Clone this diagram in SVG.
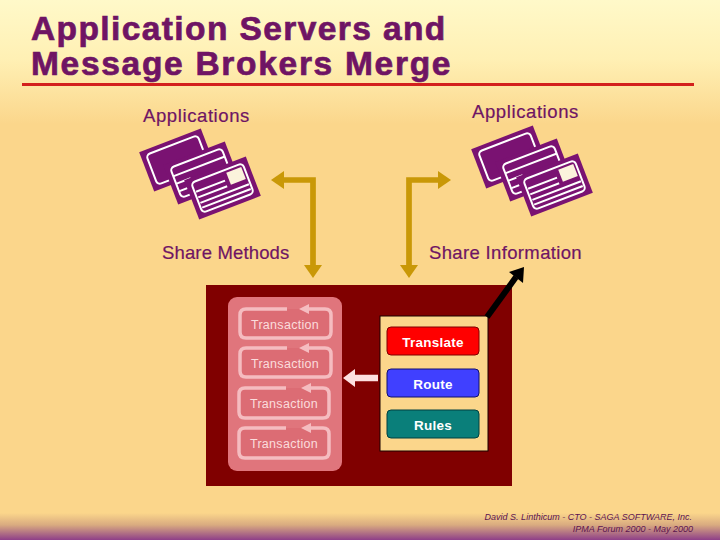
<svg xmlns="http://www.w3.org/2000/svg" xmlns:xlink="http://www.w3.org/1999/xlink" width="720" height="540" viewBox="0 0 720 540">
<style>
text{font-family:"Liberation Sans",Arial,sans-serif}
.title{font-size:33.5px;font-weight:bold;fill:#6f1464;stroke:#6f1464;stroke-width:.7px}
.lab{font-size:18.5px;fill:#6f1464;stroke:#6f1464;stroke-width:.2px}
.tx{font-size:12.5px;fill:#fbdcdc;text-anchor:middle;letter-spacing:.3px}
.btn{font-size:13.5px;font-weight:bold;fill:#fff;text-anchor:middle;letter-spacing:.25px}
.foot{font-size:9px;font-style:italic;fill:#5c1450;text-anchor:end}
.gold{fill:none;stroke:#c99807;stroke-width:5.7}
.loop{fill:#dc6c74;stroke:#f5bcc0;stroke-width:3.5}
.page{fill:#7a1272}
.w{fill:none;stroke:#fff;stroke-width:2}
</style>
<defs>
<linearGradient id="bg" x1="0" y1="0" x2="0" y2="1">
<stop offset="0" stop-color="#fff9c9"/><stop offset=".11" stop-color="#fff0b4"/><stop offset=".23" stop-color="#fbd68b"/><stop offset=".95" stop-color="#fbd68b"/><stop offset=".972" stop-color="#d9ab80"/><stop offset="1" stop-color="#8e3f88"/>
</linearGradient>
<g id="doc"><rect class="page" x="-33" y="-21" width="66" height="42"/><rect class="w" x="-27.500" y="-16" width="55" height="32" rx="4"/></g>
<g id="stack">
<g transform="translate(-22.500,-13) rotate(-21)"><use xlink:href="#doc"/></g>
<g transform="translate(1.500,0) rotate(-21)"><use xlink:href="#doc"/><path class="w" d="M-27,-7H27M-27,1H-12M-27,9H-12"/></g>
<g transform="translate(22.500,15) rotate(-21)"><use xlink:href="#doc"/><path class="w" d="M-26,-6H5M-26,0H5M-26,6H26M-26,11H26"/><rect x="9" y="-13" width="16" height="13" fill="#fbf3dc"/></g>
</g>
</defs>
<rect id="background" width="720" height="540" fill="url(#bg)"/>
<g id="title">
<text class="title" x="31" y="40" style="letter-spacing:1.4px">Application Servers and</text>
<text class="title" x="31" y="75" style="letter-spacing:1.7px">Message Brokers Merge</text>
<rect x="22" y="83" width="672" height="3" fill="#d3201c"/>
</g>
<g id="apps-left"><text class="lab" x="143" y="122" style="letter-spacing:.6px">Applications</text><use xlink:href="#stack" x="200" y="173"/></g>
<g id="apps-right"><text class="lab" x="472" y="118" style="letter-spacing:.6px">Applications</text><use xlink:href="#stack" x="532" y="170"/></g>
<g id="share-methods"><text class="lab" x="162" y="259" style="letter-spacing:.15px">Share Methods</text></g>
<g id="share-information"><text class="lab" x="429" y="259" style="letter-spacing:.35px">Share Information</text></g>
<g id="server-box">
<rect x="206" y="285" width="306" height="201" fill="#800000"/>
</g>
<g id="transactions">
<rect x="228" y="297" width="114" height="174" rx="9" fill="#e0757c"/>
<path class="loop" d="M287,309H246Q240,309 240,315V332Q240,338 246,338H325Q331,338 331,332V315Q331,309 325,309H308"/><path d="M299,309L309,304V314Z" fill="#f5bcc0"/>
<path class="loop" d="M287,348H246Q240,348 240,354V371Q240,377 246,377H325Q331,377 331,371V354Q331,348 325,348H308"/><path d="M299,348L309,343V353Z" fill="#f5bcc0"/>
<path class="loop" d="M286,388H245Q239,388 239,394V412Q239,418 245,418H323Q329,418 329,412V394Q329,388 323,388H310"/><path d="M301,388L311,383V393Z" fill="#f5bcc0"/>
<path class="loop" d="M286,428H245Q239,428 239,434V452Q239,458 245,458H323Q329,458 329,452V434Q329,428 323,428H310"/><path d="M301,428L311,423V433Z" fill="#f5bcc0"/>
<text class="tx" x="285" y="329">Transaction</text>
<text class="tx" x="285" y="368">Transaction</text>
<text class="tx" x="284" y="408">Transaction</text>
<text class="tx" x="284" y="448">Transaction</text>
</g>
<g id="broker">
<rect x="380" y="316" width="108" height="135" fill="#fbd68b" stroke="#1a0000"/>
</g>
<g id="translate"><rect x="387" y="327" width="92" height="28" rx="4" fill="#ff0000" stroke="#800000"/><text class="btn" x="433" y="347">Translate</text></g>
<g id="route"><rect x="387" y="369" width="92" height="28" rx="4" fill="#4040ff" stroke="#101070"/><text class="btn" x="433" y="389">Route</text></g>
<g id="rules"><rect x="387" y="410" width="92" height="28" rx="4" fill="#0a7f7a" stroke="#004040"/><text class="btn" x="433" y="430">Rules</text></g>
<g id="connectors">
<path class="gold" d="M313,268V180H280"/><path d="M271,180L284,171V189Z" fill="#c99807"/><path d="M304,265H322L313,278Z" fill="#c99807"/>
<path class="gold" d="M409,268V180H442"/><path d="M451,180L438,171V189Z" fill="#c99807"/><path d="M400,265H418L409,278Z" fill="#c99807"/>
<path d="M487,317L516,277" fill="none" stroke="#000" stroke-width="6"/><path d="M524,267L509,272L523,283Z" fill="#000"/>
<path d="M378,378H354" fill="none" stroke="#fde0e0" stroke-width="6.500"/><path d="M343,378L355,369V387Z" fill="#fde0e0"/>
</g>
<g id="footer">
<text class="foot" x="692" y="520">David S. Linthicum - CTO - SAGA SOFTWARE, Inc.</text>
<text class="foot" x="693" y="531.500">IPMA Forum 2000 - May 2000</text>
</g>
</svg>
